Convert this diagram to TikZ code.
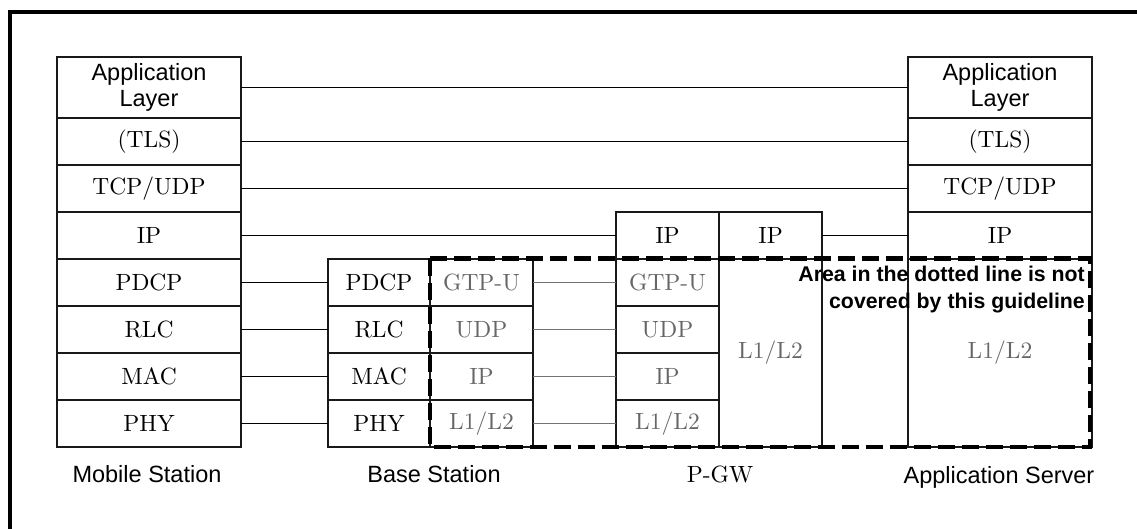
\documentclass[tikz,border=0pt]{standalone}
\usepackage{fontspec}
\newfontfamily\arialf{Liberation Sans}
\newfontfamily\lmten{lmroman10-regular.otf}
\begin{document}
\begin{tikzpicture}[x=1pt,y=-1pt,
  lay/.style={draw=black!90,line width=1.6pt,inner sep=0pt,outer sep=0pt,
    font=\lmten\fontsize{23.5}{26}\selectfont,text=black},
  wide/.style={lay,minimum width=184,minimum height=47},
  narrow/.style={lay,minimum width=103,minimum height=47},
  gtxt/.style={text=black!60},
  link/.style={line width=1.8pt,black},
  glink/.style={line width=1.1pt,black!55},
  caption/.style={font=\arialf\fontsize{23.5}{27}\selectfont,inner sep=0pt},
  area/.style={dashed,line width=4.5pt,dash pattern=on 17pt off 7pt}
]
\useasboundingbox (0,0) rectangle (1137,529);
\begin{scope}
\clip (0,0) rectangle (1137,529);
\draw[line width=3.5pt] (10,600) -- (10,12) -- (1200,12);
\end{scope}

% Mobile Station
\node[wide,minimum height=61,font=\arialf\fontsize{23.5}{26.5}\selectfont,align=center] (msapp) at (149,87.5) {Application\\Layer};
\node[wide] (mstls) at (149,141.5) {(TLS)};
\node[wide] (mstcp) at (149,188.5) {TCP/UDP};
\node[wide] (msip) at (149,235.5) {IP};
\node[wide] (mspdcp) at (149,282.5) {PDCP};
\node[wide] (msrlc) at (149,329.5) {RLC};
\node[wide] (msmac) at (149,376.5) {MAC};
\node[wide] (msphy) at (149,423.5) {PHY};

% Application Server
\node[wide,minimum height=61,font=\arialf\fontsize{23.5}{26.5}\selectfont,align=center] (asapp) at (1000,87.5) {Application\\Layer};
\node[wide] (astls) at (1000,141.5) {(TLS)};
\node[wide] (astcp) at (1000,188.5) {TCP/UDP};
\node[wide] (asip) at (1000,235.5) {IP};
\node[wide,minimum height=188,gtxt] (asl) at (1000,353) {L1/L2};

% Base Station
\node[narrow,minimum width=102] (bspdcp) at (379,282.5) {PDCP};
\node[narrow,minimum width=102] (bsrlc) at (379,329.5) {RLC};
\node[narrow,minimum width=102] (bsmac) at (379,376.5) {MAC};
\node[narrow,minimum width=102] (bsphy) at (379,423.5) {PHY};
\node[narrow,gtxt] (bsgtp) at (481.5,282.5) {GTP-U};
\node[narrow,gtxt] (bsudp) at (481.5,329.5) {UDP};
\node[narrow,gtxt] (bsip) at (481.5,376.5) {IP};
\node[narrow,gtxt] (bsl) at (481.5,423.5) {L1/L2};

% P-GW
\node[narrow] (pgip1) at (667.5,235.5) {IP};
\node[narrow] (pgip2) at (770.5,235.5) {IP};
\node[narrow,gtxt] (pggtp) at (667.5,282.5) {GTP-U};
\node[narrow,gtxt] (pgudp) at (667.5,329.5) {UDP};
\node[narrow,gtxt] (pgip) at (667.5,376.5) {IP};
\node[narrow,gtxt] (pgl) at (667.5,423.5) {L1/L2};
\node[narrow,minimum height=188,gtxt] (pgl2) at (770.5,353) {L1/L2};

% connectors
\draw[link] (msapp) -- (asapp);
\draw[link] (mstls) -- (astls);
\draw[link] (mstcp) -- (astcp);
\draw[link] (msip) -- (pgip1);
\draw[link] (pgip2) -- (asip);
\draw[link] (mspdcp) -- (bspdcp);
\draw[link] (msrlc) -- (bsrlc);
\draw[link] (msmac) -- (bsmac);
\draw[link] (msphy) -- (bsphy);
\draw[glink] (bsgtp) -- (pggtp);
\draw[glink] (bsudp) -- (pgudp);
\draw[glink] (bsip) -- (pgip);
\draw[glink] (bsl) -- (pgl);

% dotted area
\draw[area] (430,258.5) rectangle (1090,447);
\node[font=\arialf\bfseries\fontsize{21.3}{27}\selectfont,align=right,inner sep=0pt,anchor=east] (note) at (1085,290) {Area in the dotted line is not\\covered by this guideline};

% captions
\node[caption] (lms) at (147,474) {Mobile Station};
\node[caption] (lbs) at (434,474) {Base Station};
\node[inner sep=0pt,font=\lmten\fontsize{23.5}{26}\selectfont] (lpg) at (720,474) {P-GW};
\node[caption] (las) at (999,477) {Application Server};
\end{tikzpicture}
\end{document}
